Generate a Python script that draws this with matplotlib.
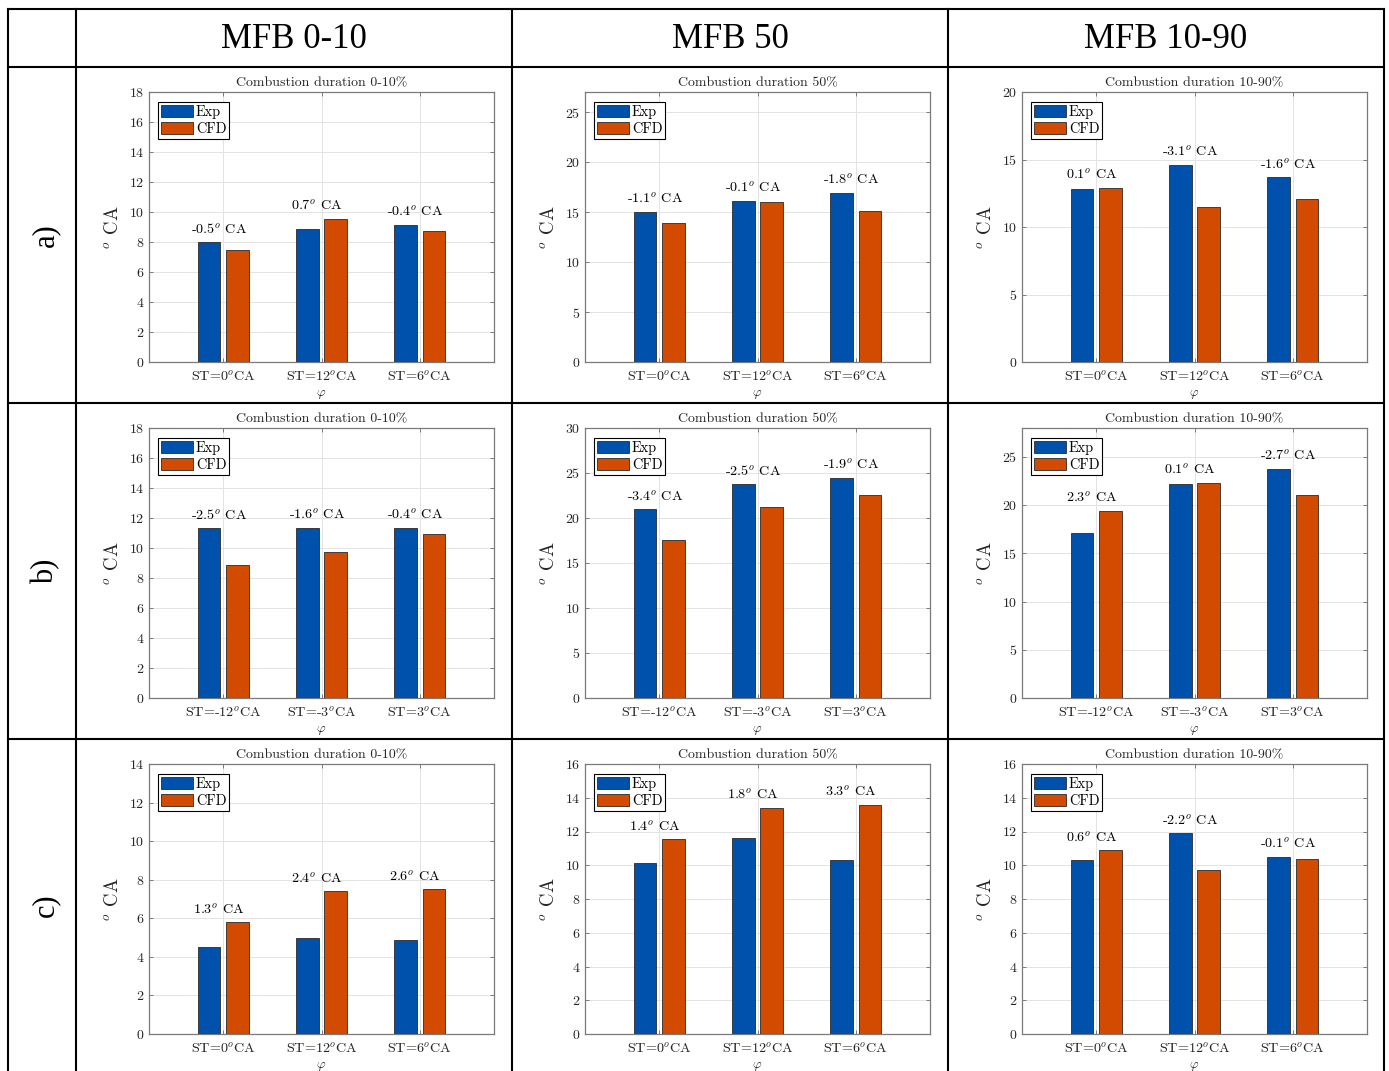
import matplotlib
matplotlib.use('Agg')
import matplotlib.pyplot as plt
from matplotlib.lines import Line2D
import numpy as np

# Figure size in pixels (saved at 100 dpi)
FIG_W, FIG_H = 1389, 1071

# Table headers and row tags
col_headers = ['MFB 0-10', 'MFB 50', 'MFB 10-90']
row_labels = ['a)', 'b)', 'c)']
panel_titles = ['Combustion duration 0-10%', 'Combustion duration 50%',
                'Combustion duration 10-90%']
legend_labels = ['Exp', 'CFD']

# Spark timing categories for each row
st_a = ['ST=0$^o$CA', 'ST=12$^o$CA', 'ST=6$^o$CA']
st_b = ['ST=-12$^o$CA', 'ST=-3$^o$CA', 'ST=3$^o$CA']
st_c = ['ST=0$^o$CA', 'ST=12$^o$CA', 'ST=6$^o$CA']

# Row a) durations [deg CA], one list per column (0-10, 50, 10-90)
exp_a = [[8.0, 8.85, 9.15], [15.05, 16.15, 16.95], [12.8, 14.6, 13.7]]
cfd_a = [[7.5, 9.55, 8.75], [13.95, 16.05, 15.15], [12.9, 11.5, 12.1]]
ymax_a = [18, 27, 20]
ystep_a = [2, 5, 5]

# Row b)
exp_b = [[11.35, 11.35, 11.35], [20.95, 23.75, 24.45], [17.1, 22.2, 23.8]]
cfd_b = [[8.85, 9.75, 10.95], [17.55, 21.25, 22.55], [19.4, 22.3, 21.1]]
ymax_b = [18, 30, 28]
ystep_b = [2, 5, 5]

# Row c)
exp_c = [[4.5, 5.0, 4.9], [10.15, 11.6, 10.3], [10.3, 11.9, 10.5]]
cfd_c = [[5.8, 7.4, 7.5], [11.55, 13.4, 13.6], [10.9, 9.7, 10.4]]
ymax_c = [14, 16, 16]
ystep_c = [2, 2, 2]

EXP_COLOR = '#0051ab'
CFD_COLOR = '#d34b01'
AX_GRAY = '#7a7a7a'
TXT = '#262626'

plt.rcParams['font.family'] = 'cmr10'
plt.rcParams['mathtext.fontset'] = 'cm'
plt.rcParams['axes.formatter.use_mathtext'] = True
plt.rcParams['axes.unicode_minus'] = False


def px_rect(left, top, width, height):
    """Convert a pixel box (from the top-left corner) into figure fractions."""
    return [left / FIG_W, 1 - (top + height) / FIG_H, width / FIG_W, height / FIG_H]


def draw_panel(ax, exp, cfd, ticklabels, title, ymax, ystep):
    """Grouped Exp/CFD bars with the CFD-Exp difference written above each pair."""
    x = np.arange(1, len(exp) + 1)
    w = 0.225
    ax.bar(x - 0.143, exp, w, color=EXP_COLOR, edgecolor='#2a2a2a', lw=0.6,
           label=legend_labels[0], zorder=3)
    ax.bar(x + 0.143, cfd, w, color=CFD_COLOR, edgecolor='#2a2a2a', lw=0.6,
           label=legend_labels[1], zorder=3)

    for xi, e, c in zip(x, exp, cfd):
        ax.annotate(f'{c - e:.1f}$^o$ CA', xy=(xi, max(e, c)), xytext=(-3.5, 6),
                    textcoords='offset points', ha='center', va='baseline',
                    fontsize=10.2, color='black')

    ax.set_xlim(0.24, 3.76)
    ax.set_ylim(0, ymax)
    ax.set_xticks(x)
    ax.set_xticklabels(ticklabels)
    ax.set_yticks(np.arange(0, ymax + 0.01, ystep))
    ax.set_axisbelow(True)
    ax.grid(True, color='#e3e3e3', lw=0.7)
    ax.tick_params(direction='in', length=3, width=0.7, color=AX_GRAY,
                   top=True, right=True, labelsize=10.2, labelcolor=TXT)
    ax.tick_params(axis='x', pad=5)
    ax.tick_params(axis='y', pad=3.5, labelsize=10)
    for sp in ax.spines.values():
        sp.set_color(AX_GRAY)
        sp.set_linewidth(0.9)

    ax.set_title(title, fontsize=10, pad=4, color=TXT)
    ax.set_ylabel('$^o$ CA', fontsize=13.5, color=TXT)
    ax.yaxis.set_label_coords(-0.077, 0.5)
    ax.set_xlabel(r'$\varphi$', fontsize=9.5, color=TXT)
    ax.xaxis.set_label_coords(0.5, -0.095)

    leg = ax.legend(loc='upper left', bbox_to_anchor=(0.026, 0.963),
                    borderaxespad=0, fontsize=10.3, fancybox=False, framealpha=1,
                    handlelength=2.25, handleheight=0.95, handletextpad=0.2,
                    borderpad=0.2, labelspacing=0.22)
    leg.get_frame().set_edgecolor('black')
    leg.get_frame().set_linewidth(0.8)


def draw_table(fig):
    """Black grid lines of the surrounding table, column headers and row tags."""
    kw = dict(transform=fig.transFigure, color='black', lw=1.5)
    for xp in [8, 76, 512, 948, 1384]:
        fig.add_artist(Line2D([xp / FIG_W] * 2, [1 - 9 / FIG_H, 0], **kw))
    for yp in [9, 67, 403, 739]:
        fig.add_artist(Line2D([8 / FIG_W, 1384 / FIG_W], [1 - yp / FIG_H] * 2, **kw))

    col_centers = [294, 730, 1166]
    for cx, txt in zip(col_centers, col_headers):
        fig.text(cx / FIG_W, 1 - 40 / FIG_H, txt, ha='center', va='center',
                 fontsize=25, family='Liberation Serif')
    row_centers = [235, 571, 905]
    for cy, txt in zip(row_centers, row_labels):
        fig.text(46 / FIG_W, 1 - cy / FIG_H, txt, ha='center', va='center',
                 rotation=90, fontsize=22, family='Liberation Serif')


def main():
    fig = plt.figure(figsize=(FIG_W / 100, FIG_H / 100), dpi=100)
    draw_table(fig)

    rows = [(exp_a, cfd_a, st_a, ymax_a, ystep_a),
            (exp_b, cfd_b, st_b, ymax_b, ystep_b),
            (exp_c, cfd_c, st_c, ymax_c, ystep_c)]
    ax_left = [149, 585, 1022]
    ax_top = [92, 428, 764]
    for r, (exps, cfds, sts, ymaxs, ysteps) in enumerate(rows):
        for c in range(3):
            ax = fig.add_axes(px_rect(ax_left[c], ax_top[r], 345, 270))
            draw_panel(ax, exps[c], cfds[c], sts, panel_titles[c], ymaxs[c], ysteps[c])

    fig.savefig('out.png', dpi=100)


if __name__ == '__main__':
    main()
